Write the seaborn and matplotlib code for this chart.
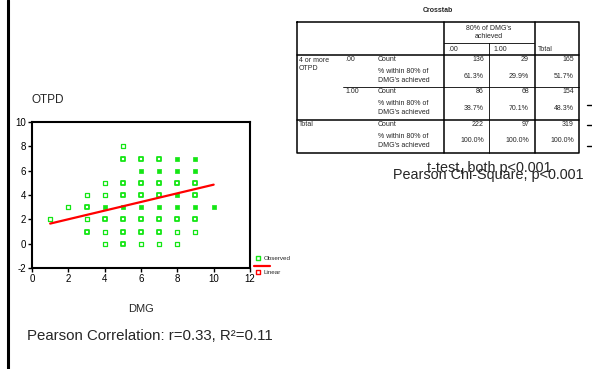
"""OTPD vs DMG scatter with linear fit, plus SPSS-style crosstab."""
import matplotlib
matplotlib.use("Agg")
import matplotlib.pyplot as plt
import pandas as pd
import seaborn as sns

sns.set_theme(style="white")
plt.rcParams["font.family"] = ["Liberation Sans", "DejaVu Sans"]
plt.rcParams["axes.unicode_minus"] = False

# ── data ──────────────────────────────────────────────────────────────────────
# observed points (DMG, OTPD); overlap: 1 = single, 2 = few, 3 = many cases
dmg = ([1] + [2] + [3] * 4 + [4] * 6 + [5] * 8 + [6] * 8 + [7] * 8 + [8] * 8
       + [9] * 7 + [10])
otpd = ([2] + [3] + [1, 2, 3, 4] + [0, 1, 2, 3, 4, 5]
        + [0, 1, 2, 3, 4, 5, 7, 8] + [0, 1, 2, 3, 4, 5, 6, 7]
        + [0, 1, 2, 3, 4, 5, 6, 7] + [0, 1, 2, 3, 4, 5, 6, 7]
        + [1, 2, 3, 4, 5, 6, 7] + [3])
overlap = ([1] + [1] + [2, 1, 2, 1] + [1, 1, 2, 3, 1, 1]
           + [2, 2, 2, 3, 2, 2, 2, 1] + [1, 2, 2, 3, 2, 2, 3, 2]
           + [1, 2, 2, 3, 2, 2, 3, 2] + [1, 1, 2, 3, 3, 2, 3, 3]
           + [1, 2, 3, 2, 2, 3, 3] + [3])

# linear fit line
fit_x = [1, 10]
fit_y = [1.65, 4.85]

x_ticks = [0, 2, 4, 6, 8, 10, 12]
y_ticks = [-2, 0, 2, 4, 6, 8, 10]

# crosstab
col_labels = [".00", "1.00", "Total"]
row_groups = ["4 or more\nOTPD", "", "Total"]
sub_groups = [".00", "1.00", ""]
counts = [[136, 29, 165], [86, 68, 154], [222, 97, 319]]
pcts = [["61.3%", "29.9%", "51.7%"], ["38.7%", "70.1%", "48.3%"],
        ["100.0%", "100.0%", "100.0%"]]

GREEN = "#14e614"
RED = "#ff0000"

df = pd.DataFrame({"DMG": dmg, "OTPD": otpd, "overlap": overlap})

# ── figure ────────────────────────────────────────────────────────────────────
fig = plt.figure(figsize=(5.92, 3.69), dpi=100)
W, H = 592, 369
ax = fig.add_axes([32 / W, 1 - 268 / H, 218 / W, 146 / H])

styles = {1: dict(s=5, facecolor="white", linewidth=0.9),
          2: dict(s=6, facecolor="white", linewidth=1.3),
          3: dict(s=10, facecolor=GREEN, linewidth=0.5)}
for lvl, st in styles.items():
    sub = df[df["overlap"] == lvl]
    sns.scatterplot(data=sub, x="DMG", y="OTPD", marker="s", ax=ax,
                    edgecolor=GREEN, zorder=3, legend=False, **st)

sns.lineplot(x=fit_x, y=fit_y, color=RED, linewidth=1.6, ax=ax, zorder=4)

ax.set_xlim(0, 12)
ax.set_ylim(-2, 10)
ax.set_xticks(x_ticks)
ax.set_yticks(y_ticks)
ax.tick_params(direction="out", length=3, width=1, labelsize=7,
               colors="black", pad=1.5, bottom=True, left=True)
for s in ax.spines.values():
    s.set_color("black")
    s.set_linewidth(1.5)
ax.set_xlabel("DMG", fontsize=8, labelpad=14)
ax.set_ylabel("")
ax.set_title("OTPD", loc="left", fontsize=8.5, pad=14, x=0.0)

# ── overlay in pixel coordinates ─────────────────────────────────────────────
ov = fig.add_axes([0, 0, 1, 1], zorder=5)
ov.set_xlim(0, W)
ov.set_ylim(H, 0)
ov.axis("off")
ov.patch.set_alpha(0)

# slide border on the left
ov.plot([7.5, 7.5], [0, H], color="black", lw=2.2)

# legend
ov.scatter([258], [258], marker="s", s=5, facecolor="white",
           edgecolor=GREEN, linewidth=1.0)
ov.text(264, 258, "Observed", fontsize=4.5, va="center")
ov.plot([254, 270], [265.5, 265.5], color=RED, lw=1.6)
ov.scatter([258], [272], marker="s", s=5, facecolor="white",
           edgecolor=RED, linewidth=1.0)
ov.text(264, 272, "Linear", fontsize=4.5, va="center")

ov.text(27, 336, "Pearson Correlation: r=0.33, R²=0.11", fontsize=10.8,
        va="center")

# crosstab table
fs = 5
L, R = 297, 579
c_stub, c_00, c_10, c_tot = 444, 489, 534, 579
top, hmid, hbot = 22, 43, 55
grp = [55, 87, 120, 153]
ov.text((L + R) / 2, 10, "Crosstab", fontsize=5, fontweight="bold",
        ha="center", va="center")
thin, thick = 0.6, 1.1
ov.plot([L, R, R, L, L], [top, top, grp[-1], grp[-1], top], color="black",
        lw=thick)
ov.plot([c_stub, c_stub], [top, grp[-1]], color="black", lw=thick)
ov.plot([c_10 + 0.5, c_10 + 0.5], [top, grp[-1]], color="black", lw=thick)
ov.plot([c_00, c_00], [hmid, grp[-1]], color="black", lw=thin)
ov.plot([c_stub, c_10], [hmid, hmid], color="black", lw=thin)
ov.plot([L, R], [hbot, hbot], color="black", lw=thick)
ov.plot([343, R], [grp[1], grp[1]], color="black", lw=thin)
ov.plot([L, R], [grp[2], grp[2]], color="black", lw=thick)

ov.text((c_stub + c_10) / 2, 32.5, "80% of DMG's\nachieved", fontsize=fs,
        ha="center", va="center", linespacing=1.0)
ov.text(c_stub + 4, 49.5, col_labels[0], fontsize=fs, va="center")
ov.text(c_00 + 4, 49.5, col_labels[1], fontsize=fs, va="center")
ov.text(c_10 + 4, 49.5, col_labels[2], fontsize=fs, va="center")

col_right = [c_00 - 5, c_10 - 5, c_tot - 5]
for i in range(3):
    g0 = grp[i]
    if row_groups[i]:
        ov.text(L + 2, g0 + 1.5, row_groups[i], fontsize=fs, va="top",
                linespacing=1.3)
    if sub_groups[i]:
        ov.text(345, g0 + 4.5, sub_groups[i], fontsize=fs, va="center")
    ov.text(378, g0 + 4.5, "Count", fontsize=fs, va="center")
    ov.text(378, g0 + 21, "% within 80% of\nDMG's achieved", fontsize=fs,
            va="center", linespacing=1.5)
    for j in range(3):
        ov.text(col_right[j], g0 + 4.5, str(counts[i][j]), fontsize=fs,
                ha="right", va="center")
        ov.text(col_right[j], g0 + 21, pcts[i][j], fontsize=fs,
                ha="right", va="center")

# stray dashes at the right edge
for yy in [105, 125, 146]:
    ov.plot([587, 592], [yy, yy], color="black", lw=1)

# the two captions overlap in the original slide as well
ov.text(427, 168, "t-test, both p<0.001", fontsize=10.4, va="center")
ov.text(393, 175, "Pearson Chi-Square, p<0.001", fontsize=10.4,
        va="center")

fig.savefig("out.png", dpi=100)
